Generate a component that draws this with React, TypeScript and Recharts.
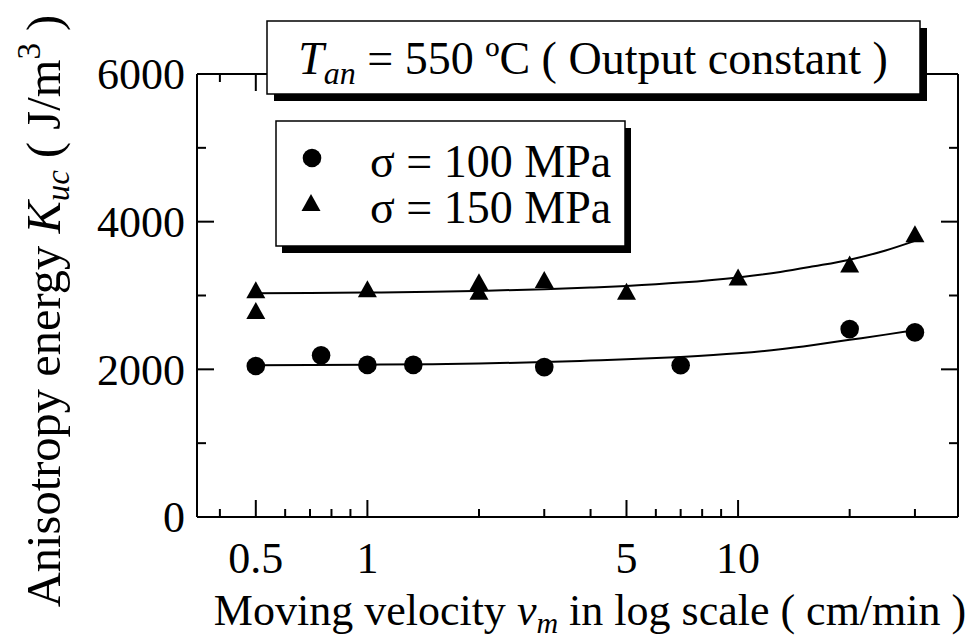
import React from 'react';
import { ComposedChart, XAxis, YAxis, Scatter, Line } from 'recharts';

const FONT = "'Liberation Serif'";

// axis ticks
const xTicks = [0.4, 0.5, 0.6, 0.7, 0.8, 0.9, 1, 2, 3, 4, 5, 6, 7, 8, 9, 10, 20, 30];
const xMajor = [0.5, 1, 5, 10];
const xLabels = ['0.5', '1', '5', '10'];
const yTicks = [0, 1000, 2000, 3000, 4000, 5000, 6000];
const yMajor = [0, 2000, 4000, 6000];
const yLabels = ['0', '2000', '4000', '6000'];

// sigma = 100 MPa (circles)
const v100 = [0.5, 0.75, 1, 1.33, 3, 7, 20, 30];
const k100 = [2045, 2190, 2060, 2060, 2030, 2055, 2545, 2500];
// sigma = 150 MPa (triangles)
const v150 = [0.5, 0.5, 1, 2, 2, 3, 5, 10, 20, 30];
const k150 = [3070, 2790, 3085, 3050, 3180, 3210, 3050, 3245, 3420, 3830];

// fitted curves
const fitV = [0.5, 0.7, 1, 1.5, 2, 3, 4, 5, 7, 10, 13, 16, 20, 25, 30];
const fit100 = [2055, 2058, 2063, 2070, 2078, 2098, 2118, 2135, 2168, 2218, 2272, 2330, 2400, 2470, 2532];
const fit150 = [3030, 3033, 3040, 3050, 3062, 3085, 3108, 3130, 3175, 3245, 3318, 3395, 3485, 3610, 3740];

const d100 = v100.map((x, i) => ({ x, y: k100[i] }));
const d150 = v150.map((x, i) => ({ x, y: k150[i] }));
const f100 = fitV.map((x, i) => ({ x, y: fit100[i] }));
const f150 = fitV.map((x, i) => ({ x, y: fit150[i] }));

const TICK_FS = 44;
const TS = { fontFamily: FONT };

const BottomTick = (p: any) => {
  const v = p.payload.value;
  const idx = xMajor.indexOf(v);
  const major = idx >= 0;
  return (
    <g>
      <line x1={p.x} x2={p.x} y1={p.y} y2={p.y - (major ? 17 : 8)} stroke="#000" strokeWidth={2} />
      {major && (
        <text x={p.x} y={p.y + 56} textAnchor="middle" fontFamily={FONT} style={TS} fontSize={TICK_FS} fill="#000">
          {xLabels[idx]}
        </text>
      )}
    </g>
  );
};

const TopTick = (p: any) => {
  const v = p.payload.value;
  const major = xMajor.indexOf(v) >= 0;
  return <line x1={p.x} x2={p.x} y1={p.y} y2={p.y + (major ? 17 : 8)} stroke="#000" strokeWidth={2} />;
};

const LeftTick = (p: any) => {
  const v = p.payload.value;
  const idx = yMajor.indexOf(v);
  const major = idx >= 0;
  return (
    <g>
      <line x1={p.x} x2={p.x + (major ? 17 : 9)} y1={p.y} y2={p.y} stroke="#000" strokeWidth={2} />
      {major && (
        <text x={p.x - 12} y={p.y} dy="0.35em" textAnchor="end" fontFamily={FONT} style={TS} fontSize={TICK_FS} fill="#000">
          {yLabels[idx]}
        </text>
      )}
    </g>
  );
};

const RightTick = (p: any) => {
  const v = p.payload.value;
  const major = yMajor.indexOf(v) >= 0;
  return <line x1={p.x} x2={p.x - (major ? 17 : 9)} y1={p.y} y2={p.y} stroke="#000" strokeWidth={2} />;
};

const CircleShape = (p: any) => <circle cx={p.cx} cy={p.cy} r={9.3} fill="#000" />;
const TriShape = (p: any) => (
  <path d={`M${p.cx},${p.cy - 9} L${p.cx + 9.5},${p.cy + 8} L${p.cx - 9.5},${p.cy + 8} Z`} fill="#000" />
);

const X_DOMAIN = [0.347, 39.2];

export default function App() {
  return (
    <div style={{ position: 'relative', width: 961, height: 630 }}>
      <style>{`svg text, svg tspan { font-family: 'Liberation Serif' !important; }`}</style>
      <ComposedChart width={961} height={622} margin={{ top: 56, right: 1, left: 89, bottom: 53 }}>
        <XAxis
          xAxisId="b"
          dataKey="x"
          type="number"
          scale="log"
          domain={X_DOMAIN}
          allowDataOverflow
          ticks={xTicks}
          interval={0}
          tickSize={0}
          tickMargin={0}
          tickLine={false}
          axisLine={{ stroke: '#000', strokeWidth: 2 }}
          tick={<BottomTick />}
          height={60}
        />
        <XAxis
          xAxisId="t"
          orientation="top"
          dataKey="x"
          type="number"
          scale="log"
          domain={X_DOMAIN}
          allowDataOverflow
          ticks={xTicks}
          interval={0}
          tickSize={0}
          tickMargin={0}
          tickLine={false}
          axisLine={{ stroke: '#000', strokeWidth: 2 }}
          tick={<TopTick />}
          height={10}
        />
        <YAxis
          yAxisId="l"
          type="number"
          domain={[0, 6000]}
          allowDataOverflow
          ticks={yTicks}
          interval={0}
          tickSize={0}
          tickMargin={0}
          tickLine={false}
          axisLine={{ stroke: '#000', strokeWidth: 2 }}
          tick={<LeftTick />}
          width={100}
        />
        <YAxis
          yAxisId="r"
          orientation="right"
          type="number"
          domain={[0, 6000]}
          allowDataOverflow
          ticks={yTicks}
          interval={0}
          tickSize={0}
          tickMargin={0}
          tickLine={false}
          axisLine={{ stroke: '#000', strokeWidth: 2 }}
          tick={<RightTick />}
          width={10}
        />
        <Line xAxisId="b" yAxisId="l" data={f150} dataKey="y" type="monotone" stroke="#000" strokeWidth={2} dot={false} isAnimationActive={false} />
        <Line xAxisId="b" yAxisId="l" data={f100} dataKey="y" type="monotone" stroke="#000" strokeWidth={2} dot={false} isAnimationActive={false} />
        <Scatter xAxisId="b" yAxisId="l" data={d100} dataKey="y" shape={<CircleShape />} isAnimationActive={false} />
        <Scatter xAxisId="b" yAxisId="l" data={d150} dataKey="y" shape={<TriShape />} isAnimationActive={false} />
      </ComposedChart>
      <svg width={961} height={630} style={{ position: 'absolute', left: 0, top: 0, pointerEvents: 'none' }} fontFamily={FONT}>
        {/* title box */}
        <rect x={266} y={20} width={653} height={73} fill="#000" />
        <rect x={259} y={13} width={653} height={73} fill="#fff" stroke="#000" strokeWidth={1.5} />
        <text x={585} y={66} textAnchor="middle" fontFamily={FONT} style={TS} fontSize={46} fill="#000">
          <tspan fontStyle="italic">T</tspan>
          <tspan fontStyle="italic" fontSize={32} dy={10}>an</tspan>
          <tspan dy={-10}> = 550 ºC ( Output constant )</tspan>
        </text>
        {/* legend box */}
        <rect x={274} y={120} width={349} height={125} fill="#000" />
        <rect x={268} y={113} width={349} height={125} fill="#fff" stroke="#000" strokeWidth={1.5} />
        <circle cx={304} cy={150} r={9.3} fill="#000" />
        <path d="M303,186 L312.5,203 L293.5,203 Z" fill="#000" />
        <text x={362} y={169} fontFamily={FONT} style={TS} fontSize={46} fill="#000">σ = 100 MPa</text>
        <text x={362} y={215} fontFamily={FONT} style={TS} fontSize={46} fill="#000">σ = 150 MPa</text>
        {/* x axis title */}
        <text x={582} y={617} textAnchor="middle" fontFamily={FONT} style={TS} fontSize={44} fill="#000">
          <tspan>Moving velocity </tspan>
          <tspan fontStyle="italic">v</tspan>
          <tspan fontStyle="italic" fontSize={30} dy={8}>m</tspan>
          <tspan dy={-8}> in log scale ( cm/min )</tspan>
        </text>
        {/* y axis title */}
        <text
          x={0}
          y={0}
          transform="translate(52,303) rotate(-90)"
          textAnchor="middle"
          fontFamily={FONT}
          style={TS}
          fontSize={48.5}
          fill="#000"
        >
          <tspan>Anisotropy energy </tspan>
          <tspan fontStyle="italic">K</tspan>
          <tspan fontStyle="italic" fontSize={33} dy={9}>uc</tspan>
          <tspan dy={-9}> ( J/m</tspan>
          <tspan fontSize={33} dy={-20}>3</tspan>
          <tspan dy={20}> )</tspan>
        </text>
      </svg>
    </div>
  );
}
